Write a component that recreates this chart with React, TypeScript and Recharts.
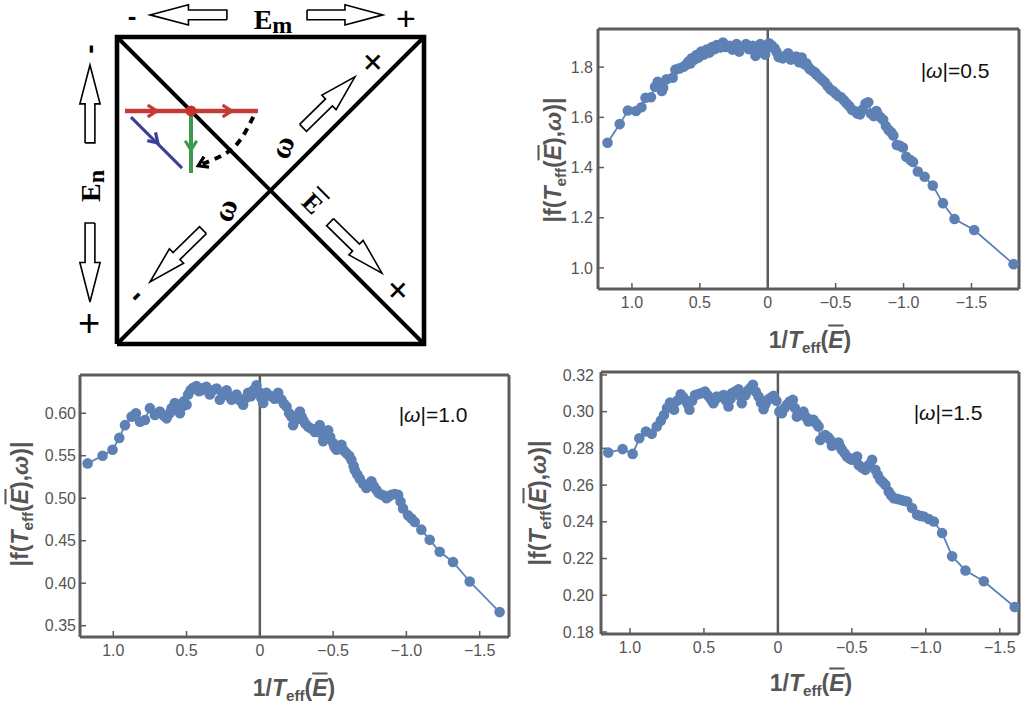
import React from 'react';
import { ComposedChart, LineChart, Line, XAxis, YAxis, ReferenceLine, ReferenceDot } from 'recharts';

// ---------- data ----------
const xTicks = [1.0, 0.5, 0, -0.5, -1.0, -1.5];
const yTicksA = [1.0, 1.2, 1.4, 1.6, 1.8];
const yTicksB = [0.35, 0.4, 0.45, 0.5, 0.55, 0.6];
const yTicksC = [0.18, 0.2, 0.22, 0.24, 0.26, 0.28, 0.3, 0.32];

// |omega| = 0.5
const xA = [1.18, 1.09, 1.03, 0.97, 0.93, 0.9, 0.86, 0.83, 0.81, 0.78, 0.77, 0.745, 0.7, 0.68, 0.65, 0.62, 0.6, 0.585, 0.57, 0.56, 0.54, 0.525, 0.51, 0.49, 0.47, 0.45, 0.43, 0.41, 0.39, 0.375, 0.35, 0.33, 0.31, 0.28, 0.26, 0.23, 0.21, 0.19, 0.16, 0.14, 0.11, 0.09, 0.07, 0.055, 0.04, 0.02, 0.005, -0.01, -0.03, -0.05, -0.065, -0.08, -0.11, -0.13, -0.15, -0.17, -0.19, -0.21, -0.23, -0.25, -0.27, -0.285, -0.3, -0.31, -0.33, -0.35, -0.36, -0.38, -0.4, -0.42, -0.44, -0.46, -0.48, -0.5, -0.52, -0.54, -0.56, -0.58, -0.6, -0.62, -0.64, -0.66, -0.68, -0.7, -0.72, -0.74, -0.76, -0.78, -0.8, -0.81, -0.83, -0.85, -0.87, -0.89, -0.91, -0.925, -0.95, -0.97, -0.995, -1.02, -1.05, -1.07, -1.105, -1.155, -1.215, -1.29, -1.375, -1.52, -1.81];
const yA = [1.499, 1.573, 1.627, 1.625, 1.64, 1.678, 1.68, 1.722, 1.742, 1.705, 1.718, 1.752, 1.758, 1.79, 1.795, 1.802, 1.81, 1.822, 1.815, 1.835, 1.83, 1.848, 1.838, 1.862, 1.85, 1.87, 1.858, 1.88, 1.872, 1.888, 1.878, 1.898, 1.88, 1.885, 1.87, 1.892, 1.862, 1.88, 1.892, 1.872, 1.885, 1.845, 1.87, 1.892, 1.86, 1.85, 1.875, 1.895, 1.886, 1.875, 1.86, 1.84, 1.835, 1.845, 1.855, 1.83, 1.84, 1.842, 1.82, 1.838, 1.812, 1.815, 1.8, 1.792, 1.785, 1.778, 1.77, 1.76, 1.75, 1.74, 1.725, 1.712, 1.705, 1.695, 1.685, 1.68, 1.668, 1.656, 1.645, 1.63, 1.625, 1.615, 1.612, 1.632, 1.655, 1.66, 1.615, 1.605, 1.625, 1.612, 1.6, 1.59, 1.565, 1.55, 1.54, 1.528, 1.49, 1.488, 1.48, 1.443, 1.43, 1.422, 1.384, 1.363, 1.328, 1.258, 1.195, 1.151, 1.015];

// |omega| = 1.0
const xB = [1.175, 1.073, 1.005, 0.959, 0.92, 0.875, 0.845, 0.818, 0.784, 0.75, 0.716, 0.682, 0.655, 0.636, 0.615, 0.602, 0.58, 0.56, 0.545, 0.53, 0.518, 0.5, 0.489, 0.473, 0.455, 0.432, 0.415, 0.398, 0.38, 0.364, 0.341, 0.32, 0.295, 0.273, 0.25, 0.227, 0.21, 0.193, 0.175, 0.159, 0.135, 0.114, 0.095, 0.08, 0.06, 0.045, 0.023, 0.005, -0.01, -0.023, -0.045, -0.06, -0.08, -0.1, -0.125, -0.148, -0.165, -0.182, -0.2, -0.216, -0.227, -0.245, -0.26, -0.273, -0.285, -0.295, -0.31, -0.33, -0.35, -0.375, -0.392, -0.409, -0.425, -0.432, -0.443, -0.466, -0.48, -0.5, -0.51, -0.523, -0.54, -0.557, -0.575, -0.591, -0.61, -0.625, -0.64, -0.648, -0.665, -0.682, -0.705, -0.727, -0.745, -0.761, -0.778, -0.795, -0.81, -0.83, -0.848, -0.864, -0.88, -0.898, -0.92, -0.943, -0.96, -0.977, -1.011, -1.035, -1.057, -1.102, -1.159, -1.227, -1.318, -1.432, -1.636];
const yB = [0.541, 0.55, 0.557, 0.571, 0.586, 0.596, 0.6, 0.59, 0.592, 0.606, 0.598, 0.602, 0.597, 0.594, 0.6, 0.606, 0.612, 0.605, 0.6, 0.608, 0.614, 0.61, 0.622, 0.627, 0.63, 0.632, 0.626, 0.627, 0.63, 0.631, 0.622, 0.627, 0.629, 0.616, 0.622, 0.627, 0.62, 0.616, 0.619, 0.622, 0.615, 0.61, 0.618, 0.624, 0.62, 0.627, 0.633, 0.625, 0.618, 0.612, 0.624, 0.621, 0.62, 0.617, 0.624, 0.616, 0.611, 0.608, 0.6, 0.596, 0.586, 0.592, 0.598, 0.602, 0.596, 0.592, 0.588, 0.584, 0.582, 0.578, 0.582, 0.586, 0.575, 0.567, 0.578, 0.58, 0.572, 0.565, 0.56, 0.557, 0.56, 0.563, 0.556, 0.553, 0.55, 0.545, 0.538, 0.533, 0.528, 0.523, 0.517, 0.512, 0.516, 0.52, 0.514, 0.51, 0.506, 0.504, 0.503, 0.5, 0.502, 0.504, 0.505, 0.504, 0.496, 0.488, 0.48, 0.476, 0.472, 0.463, 0.451, 0.437, 0.425, 0.402, 0.366];

// |omega| = 1.5
const xC = [1.147, 1.05, 0.982, 0.937, 0.892, 0.853, 0.819, 0.792, 0.77, 0.75, 0.729, 0.702, 0.68, 0.657, 0.64, 0.628, 0.61, 0.598, 0.58, 0.56, 0.54, 0.521, 0.505, 0.492, 0.475, 0.458, 0.445, 0.436, 0.425, 0.413, 0.39, 0.368, 0.35, 0.334, 0.32, 0.312, 0.29, 0.266, 0.255, 0.244, 0.22, 0.199, 0.185, 0.169, 0.15, 0.131, 0.115, 0.097, 0.085, 0.07, 0.05, 0.029, 0.01, -0.01, -0.027, -0.045, -0.061, -0.08, -0.101, -0.115, -0.128, -0.15, -0.173, -0.19, -0.207, -0.225, -0.241, -0.26, -0.275, -0.286, -0.305, -0.32, -0.34, -0.354, -0.365, -0.385, -0.41, -0.42, -0.433, -0.45, -0.467, -0.485, -0.501, -0.52, -0.535, -0.546, -0.57, -0.591, -0.615, -0.637, -0.659, -0.675, -0.693, -0.71, -0.727, -0.749, -0.765, -0.783, -0.805, -0.828, -0.85, -0.874, -0.907, -0.941, -0.965, -0.986, -1.02, -1.054, -1.11, -1.178, -1.268, -1.392, -1.601];
const yC = [0.2777, 0.2796, 0.277, 0.2855, 0.2892, 0.2879, 0.2919, 0.2951, 0.2982, 0.302, 0.305, 0.301, 0.306, 0.3095, 0.3078, 0.3064, 0.304, 0.301, 0.306, 0.3091, 0.3095, 0.31, 0.3104, 0.3109, 0.309, 0.3073, 0.306, 0.3046, 0.3065, 0.3082, 0.308, 0.3091, 0.306, 0.3028, 0.307, 0.31, 0.311, 0.3122, 0.3085, 0.3046, 0.309, 0.3118, 0.313, 0.3146, 0.311, 0.3082, 0.305, 0.3013, 0.304, 0.3064, 0.3075, 0.3086, 0.306, 0.3, 0.2991, 0.302, 0.3037, 0.3055, 0.3064, 0.302, 0.2973, 0.2985, 0.3, 0.297, 0.2946, 0.2955, 0.2955, 0.2935, 0.2919, 0.2846, 0.286, 0.2873, 0.286, 0.2846, 0.2814, 0.2825, 0.2832, 0.281, 0.2792, 0.2775, 0.2756, 0.2745, 0.2738, 0.2748, 0.2756, 0.271, 0.2695, 0.2683, 0.271, 0.2738, 0.2683, 0.2655, 0.2629, 0.2615, 0.2601, 0.2565, 0.2545, 0.2529, 0.2525, 0.252, 0.2515, 0.2511, 0.2475, 0.2438, 0.2432, 0.2429, 0.2415, 0.2402, 0.2339, 0.2212, 0.2135, 0.2076, 0.1936];

const toRows = (xs: number[], ys: number[]) => xs.map((x, i) => ({ x, y: ys[i] }));

// ---------- diagram geometry (box = [0,10] x [0,10]) ----------
const boxPts = [[0, 0], [10, 0], [10, 10], [0, 10], [0, 0]];
const diag1 = [[0, 10], [10, 0]];
const diag2 = [[0, 0], [10, 10]];
const redPath = [[0.26, 7.59], [4.59, 7.59]];
const greenPath = [[2.41, 7.59], [2.41, 5.57]];
const bluePath = [[0.456, 7.39], [2.12, 5.73]];
const dashedPath = [[4.44, 7.4], [4.01, 6.64], [3.46, 6.16], [2.68, 5.83]];
const redDot = [2.41, 7.59];
// hollow arrows: [tailU, tailV, tipU, tipV]
const hollowArrows = [
  [3.58, 10.72, 1.075, 10.72],
  [6.19, 10.72, 8.66, 10.72],
  [-0.88, 6.55, -0.88, 9.09],
  [-0.88, 3.94, -0.88, 1.37],
  [6.06, 7.04, 7.75, 8.7],
  [2.8, 3.71, 1.075, 2.02],
  [6.94, 3.97, 8.63, 2.31],
];
// chevron arrowheads on paths: [u, v, dirU, dirV]
const chevrons = [
  [1.24, 7.59, 1, 0],
  [3.68, 7.59, 1, 0],
  [2.41, 6.38, 0, -1],
  [1.29, 6.59, 0.7071, -0.7071],
  [2.7, 5.83, -0.9, -0.43],
];

// ---------- styling ----------
const BLUE = '#5E81B5';
const FRAME = '#5c5c5c';
const TICKTXT = '#555555';
const SANS = '"Liberation Sans", Arial, sans-serif';
const SERIF = '"Liberation Serif", "Times New Roman", serif';

const ptsToRows = (pts: number[][]) => pts.map(([u, v]) => ({ u, v }));

function arrowPolygon(a: number[]) {
  const [tu, tv, pu, pv] = a;
  const dx = pu - tu, dy = pv - tv;
  const len = Math.hypot(dx, dy);
  const ux = dx / len, uy = dy / len;
  const nx = -uy, ny = ux;
  const headLen = len * 0.5;
  const headHalf = 0.33, shaftHalf = 0.16;
  const bu = pu - ux * headLen, bv = pv - uy * headLen;
  const pts = [
    [tu + nx * shaftHalf, tv + ny * shaftHalf],
    [bu + nx * shaftHalf, bv + ny * shaftHalf],
    [bu + nx * headHalf, bv + ny * headHalf],
    [pu, pv],
    [bu - nx * headHalf, bv - ny * headHalf],
    [bu - nx * shaftHalf, bv - ny * shaftHalf],
    [tu - nx * shaftHalf, tv - ny * shaftHalf],
    [tu + nx * shaftHalf, tv + ny * shaftHalf],
  ];
  return ptsToRows(pts);
}

function chevronPts(c: number[]) {
  const [u, v, dx, dy] = c;
  const nx = -dy, ny = dx;
  const tip = [u + dx * 0.06, v + dy * 0.06];
  const back = 0.24, half = 0.19;
  return ptsToRows([
    [u - dx * back + nx * half, v - dy * back + ny * half],
    tip,
    [u - dx * back - nx * half, v - dy * back - ny * half],
  ]);
}

const fmtX = (v: number) => (v === 0 ? '0' : (v < 0 ? '\u2212' : '') + Math.abs(v).toFixed(1));
const fmtY = (d: number) => (v: number) => v.toFixed(d);

function Txt({ x, y, rot = 0, style, children }: any) {
  return (
    <div
      style={{
        position: 'absolute',
        left: x,
        top: y,
        transform: `translate(-50%, -50%) rotate(${rot}deg)`,
        whiteSpace: 'nowrap',
        lineHeight: 1,
        ...style,
      }}
    >
      {children}
    </div>
  );
}

const subStyle: React.CSSProperties = { fontSize: '0.66em', position: 'relative', top: '0.32em' };
const barE: React.CSSProperties = { fontStyle: 'italic', textDecoration: 'overline' };
const titleStyle: React.CSSProperties = { fontFamily: SANS, fontWeight: 'bold', fontSize: 23, color: '#555' };

const YTitle = () => (
  <span>
    |f(<i>T</i>
    <span style={subStyle}>eff</span>(<span style={barE}>E</span>),<i>ω</i>)|
  </span>
);
const XTitle = () => (
  <span>
    1/<i>T</i>
    <span style={subStyle}>eff</span>(<span style={barE}>E</span>)
  </span>
);

function DataPanel({ xs, ys, pos, frame, xDomain, yDomain, yTicks, yDigits, yMargin, label, labelPos, yTitlePos, xTitlePos }: any) {
  const [L, T, W, H] = pos;
  const [l, r, t, b] = frame;
  const margin = { left: l - L - 50, top: t - T - 1, right: L + W - r - 1, bottom: T + H - b - 30 };
  const rows = toRows(xs, ys);
  const axisLine = { stroke: FRAME, strokeWidth: 3 };
  const tickLine = { stroke: FRAME, strokeWidth: 1.5 };
  const tickStyle = { fill: TICKTXT, fontSize: 16, fontFamily: SANS };
  return (
    <>
      <div style={{ position: 'absolute', left: L, top: T }}>
        <LineChart width={W} height={H} data={rows} margin={margin}>
          <XAxis
            dataKey="x"
            type="number"
            domain={xDomain}
            reversed
            allowDataOverflow
            ticks={xTicks}
            interval={0}
            height={30}
            tickSize={-6}
            tickMargin={14}
            axisLine={axisLine}
            tickLine={tickLine}
            tick={tickStyle}
            tickFormatter={fmtX}
          />
          <XAxis
            xAxisId="top"
            orientation="top"
            dataKey="x"
            type="number"
            domain={xDomain}
            reversed
            allowDataOverflow
            ticks={xTicks}
            interval={0}
            height={1}
            tickSize={-6}
            axisLine={axisLine}
            tickLine={tickLine}
            tick={false}
          />
          <YAxis
            type="number"
            domain={yDomain}
            allowDataOverflow
            ticks={yTicks}
            interval={0}
            width={50}
            tickSize={-6}
            tickMargin={yMargin}
            axisLine={axisLine}
            tickLine={tickLine}
            tick={tickStyle}
            tickFormatter={fmtY(yDigits)}
          />
          <YAxis
            yAxisId="right"
            orientation="right"
            type="number"
            domain={yDomain}
            allowDataOverflow
            ticks={yTicks}
            interval={0}
            width={1}
            tickSize={-6}
            axisLine={axisLine}
            tickLine={tickLine}
            tick={false}
          />
          <ReferenceLine x={0} stroke={FRAME} strokeWidth={2.5} />
          <Line
            xAxisId="top"
            yAxisId="right"
            dataKey="y"
            stroke="none"
            dot={false}
            activeDot={false}
            isAnimationActive={false}
          />
          <Line
            dataKey="y"
            stroke={BLUE}
            strokeWidth={1.8}
            dot={{ r: 5.3, fill: BLUE, stroke: BLUE, strokeWidth: 0 }}
            activeDot={false}
            isAnimationActive={false}
          />
        </LineChart>
      </div>
      <Txt x={yTitlePos[0]} y={yTitlePos[1]} rot={-90} style={titleStyle}>
        <YTitle />
      </Txt>
      <Txt x={xTitlePos[0]} y={xTitlePos[1]} style={titleStyle}>
        <XTitle />
      </Txt>
      <Txt x={labelPos[0]} y={labelPos[1]} style={{ fontFamily: SANS, fontSize: 21, color: '#111' }}>
        |<i>ω</i>|={label}
      </Txt>
    </>
  );
}

function Diagram() {
  const black = '#000';
  const lineProps = { dataKey: 'v', dot: false, activeDot: false, isAnimationActive: false } as any;
  return (
    <>
      <div style={{ position: 'absolute', left: 0, top: 0 }}>
        <ComposedChart width={510} height={355} margin={{ top: 0, right: 0, bottom: 0, left: 0 }}>
          <XAxis dataKey="u" type="number" domain={[-3.811, 12.801]} hide allowDataOverflow />
          <YAxis type="number" domain={[-0.358, 11.205]} hide allowDataOverflow />
          <Line {...lineProps} data={ptsToRows(diag1)} stroke={black} strokeWidth={4} />
          <Line {...lineProps} data={ptsToRows(diag2)} stroke={black} strokeWidth={4} />
          <Line {...lineProps} data={ptsToRows(boxPts)} stroke={black} strokeWidth={4.6} strokeLinejoin="miter" />
          {hollowArrows.map((a, i) => (
            <Line key={'h' + i} {...lineProps} data={arrowPolygon(a)} stroke={black} strokeWidth={1.6} strokeLinejoin="miter" />
          ))}
          <Line {...lineProps} data={ptsToRows(bluePath)} stroke="#3d3f96" strokeWidth={3} />
          <Line {...lineProps} data={ptsToRows(greenPath)} stroke="#3f9a4f" strokeWidth={4} />
          <Line {...lineProps} data={ptsToRows(redPath)} stroke="#c33a36" strokeWidth={4.5} />
          <Line {...lineProps} data={ptsToRows(dashedPath)} type="natural" stroke={black} strokeWidth={4} strokeDasharray="7 6" />
          {chevrons.map((c, i) => (
            <Line
              key={'c' + i}
              {...lineProps}
              data={chevronPts(c)}
              stroke={i < 2 ? '#c33a36' : i === 2 ? '#3f9a4f' : i === 3 ? '#3d3f96' : black}
              strokeWidth={3.2}
              strokeLinejoin="miter"
            />
          ))}
          <ReferenceDot x={redDot[0]} y={redDot[1]} r={5.5} fill="#c8302e" stroke="none" ifOverflow="visible" />
        </ComposedChart>
      </div>
      {/* texts */}
      <Txt x={132} y={16} style={{ fontFamily: SANS, fontWeight: 'bold', fontSize: 26 }}>-</Txt>
      <Txt x={273} y={20} style={{ fontFamily: SERIF, fontWeight: 'bold', fontSize: 28 }}>
        E<span style={{ fontSize: 24, position: 'relative', top: 4 }}>m</span>
      </Txt>
      <Txt x={406} y={18} style={{ fontFamily: SANS, fontSize: 34 }}>+</Txt>
      <Txt x={90} y={49} rot={-90} style={{ fontFamily: SANS, fontWeight: 'bold', fontSize: 28 }}>-</Txt>
      <Txt x={91} y={186} rot={-90} style={{ fontFamily: SERIF, fontWeight: 'bold', fontSize: 28 }}>
        E<span style={{ fontSize: 24, position: 'relative', top: 4 }}>n</span>
      </Txt>
      <Txt x={89} y={323} style={{ fontFamily: SANS, fontSize: 38 }}>+</Txt>
      <Txt x={373} y={62} rot={45} style={{ fontFamily: SANS, fontSize: 38 }}>+</Txt>
      <Txt x={398} y={290} rot={45} style={{ fontFamily: SANS, fontSize: 38 }}>+</Txt>
      <Txt x={282} y={147} rot={-70} style={{ fontFamily: SERIF, fontWeight: 'bold', fontSize: 30 }}>ω</Txt>
      <Txt x={225} y={210} rot={-70} style={{ fontFamily: SERIF, fontWeight: 'bold', fontSize: 30 }}>ω</Txt>
      <Txt x={312} y={204} rot={45} style={{ fontFamily: SERIF, fontWeight: 'bold', fontSize: 26 }}>
        <span style={{ textDecoration: 'overline' }}>E</span>
      </Txt>
      <Txt x={135} y={295} rot={-45} style={{ fontFamily: SANS, fontWeight: 'bold', fontSize: 30 }}>-</Txt>
    </>
  );
}

export default function App() {
  return (
    <div style={{ position: 'absolute', left: 0, top: 0, width: 1026, height: 719, background: '#fff', overflow: 'hidden' }}>
      <Diagram />
      <DataPanel
        xs={xA}
        ys={yA}
        pos={[520, 0, 506, 355]}
        frame={[598, 1019, 29, 289]}
        xDomain={[-1.85, 1.25]}
        yDomain={[0.916, 1.952]}
        yTicks={yTicksA}
        yDigits={1}
        yMargin={11}
        label="0.5"
        labelPos={[955, 70]}
        yTitlePos={[553, 160]}
        xTitlePos={[810, 340]}
      />
      <DataPanel
        xs={xB}
        ys={yB}
        pos={[0, 355, 515, 364]}
        frame={[80, 509, 375, 637]}
        xDomain={[-1.7, 1.227]}
        yDomain={[0.3367, 0.645]}
        yTicks={yTicksB}
        yDigits={2}
        yMargin={10}
        label="1.0"
        labelPos={[433, 414]}
        yTitlePos={[20, 504]}
        xTitlePos={[294, 688]}
      />
      <DataPanel
        xs={xC}
        ys={yC}
        pos={[515, 355, 511, 364]}
        frame={[601, 1019, 372, 634]}
        xDomain={[-1.63, 1.196]}
        yDomain={[0.1789, 0.3216]}
        yTicks={yTicksC}
        yDigits={2}
        yMargin={13}
        label="1.5"
        labelPos={[948, 412]}
        yTitlePos={[538, 503]}
        xTitlePos={[811, 683]}
      />
    </div>
  );
}
